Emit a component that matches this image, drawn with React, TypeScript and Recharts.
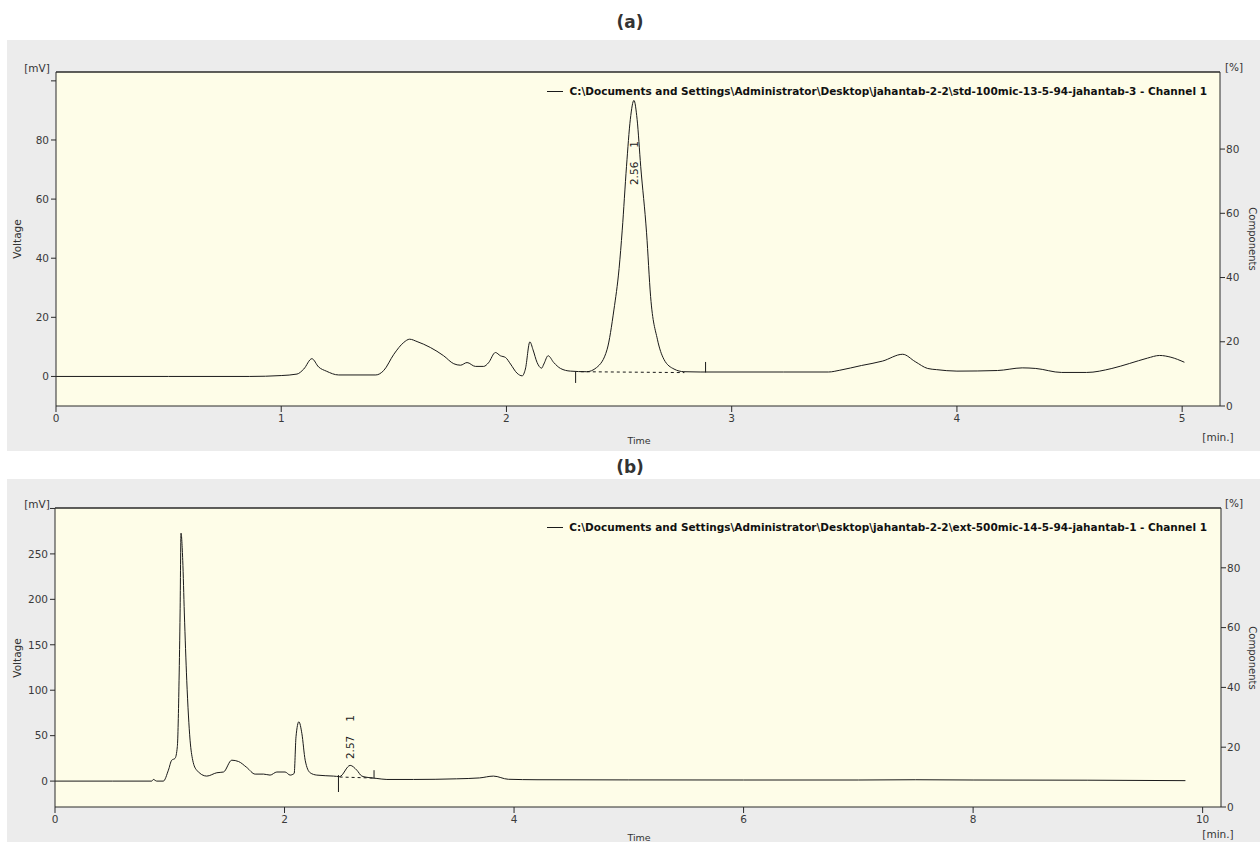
import React from 'react';
import {
  LineChart,
  Line,
  XAxis,
  YAxis,
  CartesianGrid,
  ReferenceLine,
  ReferenceDot,
} from 'recharts';

// (a) standard 100 mic
const stdTime = [
  0, 0.5, 0.86, 1.0, 1.07, 1.1, 1.136, 1.166, 1.2, 1.255, 1.42, 1.455, 1.5, 1.544, 1.57, 1.603,
  1.662, 1.721, 1.766, 1.796, 1.825, 1.862, 1.899, 1.92, 1.951, 1.973, 1.996, 2.018, 2.047, 2.07,
  2.084, 2.104, 2.118, 2.136, 2.156, 2.166, 2.185, 2.21, 2.24, 2.284, 2.356, 2.4, 2.447, 2.477,
  2.5, 2.514, 2.533, 2.55, 2.566, 2.58, 2.596, 2.622, 2.64, 2.67, 2.699, 2.744, 2.788, 2.86,
  3.23, 3.43, 3.48, 3.576, 3.67, 3.759, 3.815, 3.87, 3.91, 4.0, 4.18, 4.29, 4.35, 4.465, 4.576,
  4.688, 4.767, 4.846, 4.9, 4.95, 5.01,
];
const stdVoltage = [
  0, 0, 0, 0.3, 0.8, 2.5, 6.0, 3.2, 1.8, 0.5, 0.5, 2.0, 7.5, 11.5, 12.6, 11.8,
  9.8, 7.0, 4.3, 3.8, 4.7, 3.4, 3.4, 4.6, 8.1, 7.0, 6.4, 4.2, 1.1, 0.2,
  2.5, 11.7, 9.0, 4.7, 2.8, 4.2, 7.0, 4.7, 2.7, 1.8, 1.6, 3.0, 9.2, 22.5,
  36.5, 49.5, 71.1, 87, 93.4, 87, 71.1, 48.6, 27, 12.6, 5.8, 2.5, 1.6, 1.5,
  1.5, 1.5, 2.1, 3.7, 5.2, 7.5, 5.0, 2.7, 2.3, 1.8, 2.0, 2.9, 2.7, 1.35, 1.35,
  2.7, 4.4, 6.2, 7.1, 6.5, 4.8,
];
const stdBaseTime = [2.33, 2.79];
const stdBaseVoltage = [1.6, 1.3];
const stdMarkTime = [2.307, 2.884];
const stdMarkFrom = [1.6, 1.35];
const stdMarkTo = [-2.2, 4.9];
const stdPeakTime = [2.566];
const stdPeakVoltage = [93.4];
const stdPeakLabel = ['2.56'];
const stdPeakNo = ['1'];
const stdTimeTicks = [0, 1, 2, 3, 4, 5];
const stdVoltTicks = [0, 20, 40, 60, 80, 100];

// (b) extract 500 mic
const extTime = [
  0, 0.5, 0.843, 0.857, 0.886, 0.944, 0.988, 1.017, 1.046, 1.066, 1.081, 1.09, 1.098, 1.113,
  1.127, 1.148, 1.177, 1.2, 1.235, 1.322, 1.41, 1.468, 1.54, 1.6, 1.671, 1.744, 1.817, 1.874,
  1.933, 2.005, 2.049, 2.084, 2.1, 2.125, 2.151, 2.18, 2.223, 2.281, 2.427, 2.48, 2.572, 2.63,
  2.674, 2.746, 2.805, 2.892, 3.124, 3.5, 3.7, 3.82, 3.95, 4.2, 5.0, 6.0, 7.0, 7.5, 8.0, 9.0, 9.85,
];
const extVoltage = [
  0, 0, 0, 1.8, 0, 0, 12, 23, 25, 38, 111, 185, 272.8, 243,
  185, 111, 45, 23, 12, 5.5, 9.2, 10, 23, 21.5, 15, 7.7, 7.7, 6.6,
  10, 10, 6.6, 8.4, 48.8, 65.3, 52.5, 23, 9.2, 6.6, 5.5, 5.0, 17.3, 12,
  5.5, 3.7, 2.9, 1.8, 1.8, 2.5, 3.5, 5.5, 2.0, 1.5, 1.3, 1.2, 1.2, 1.5, 1.2, 1.0, 0.5,
];
const extBaseTime = [2.48, 2.79];
const extBaseVoltage = [4.5, 3.3];
const extMarkTime = [2.47, 2.78];
const extMarkFrom = [6.6, 12];
const extMarkTo = [-12, 3];
const extPeakTime = [2.572];
const extPeakVoltage = [17.3];
const extPeakLabel = ['2.57'];
const extPeakNo = ['1'];
const extTimeTicks = [0, 2, 4, 6, 8, 10];
const extVoltTicks = [0, 50, 100, 150, 200, 250, 300];

const pctTicks = [0, 20, 40, 60, 80];

const GRAY = '#ececec';
const PLOT_BG = '#fefde8';
const INK = '#1a1a1a';
const AXIS = '#2a2a2a';
const FONT = '"DejaVu Sans", Verdana, sans-serif';
const tickStyle = { fontSize: 10.5, fill: '#3a3a3a', fontFamily: FONT };

type PanelProps = {
  title: string;
  titleY: number;
  top: number;
  height: number;
  plotTop: number;
  plotBottom: number;
  plotLeft: number;
  plotRight: number;
  time: number[];
  voltage: number[];
  baseTime: number[];
  baseVoltage: number[];
  markTime: number[];
  markFrom: number[];
  markTo: number[];
  peakTime: number[];
  peakVoltage: number[];
  peakLabel: string[];
  peakNo: string[];
  labelShift: number;
  timeMax: number;
  timeTicks: number[];
  voltDomain: [number, number];
  voltTicks: number[];
  pctMax: number;
  legend: string;
  timeLabelY: number;
};

function Txt({ x, y, children, rotate = 0, size = 10.5, bold = false }: any) {
  return (
    <div
      style={{
        position: 'absolute',
        left: x,
        top: y,
        transform: `translate(-50%, -50%) rotate(${rotate}deg)`,
        whiteSpace: 'nowrap',
        fontFamily: FONT,
        fontSize: size,
        fontWeight: bold ? 'bold' : 'normal',
        color: '#333',
        lineHeight: 1,
      }}
    >
      {children}
    </div>
  );
}

function Panel(p: PanelProps) {
  const trace = p.time.map((t, i) => ({ time: t, voltage: p.voltage[i] }));
  const base = p.baseTime.map((t, i) => ({ time: t, voltage: p.baseVoltage[i] }));
  const marks = p.markTime.map((t, i) => [
    { time: t, voltage: p.markFrom[i] },
    { time: t, voltage: p.markTo[i] },
  ]);
  const topTick = p.voltTicks[p.voltTicks.length - 1];
  const midY = (p.plotTop + p.plotBottom) / 2;

  return (
    <>
      <Txt x={630} y={p.titleY} size={17} bold>
        {p.title}
      </Txt>
      <div style={{ position: 'absolute', left: 7, top: p.top, width: 1253, height: p.height, background: GRAY }} />
      <div style={{ position: 'absolute', left: 7, top: p.top }}>
        <LineChart
          width={1253}
          height={p.height}
          margin={{ top: p.plotTop - p.top, right: 0, bottom: 0, left: 0 }}
        >
          <CartesianGrid yAxisId="mv" fill={PLOT_BG} stroke="none" horizontal={false} vertical={false} />
          <XAxis
            dataKey="time"
            type="number"
            domain={[0, p.timeMax]}
            ticks={p.timeTicks}
            allowDataOverflow
            height={p.top + p.height - p.plotBottom}
            tick={tickStyle}
            tickSize={6}
            tickMargin={3}
            stroke={AXIS}
          />
          <YAxis
            yAxisId="mv"
            type="number"
            domain={p.voltDomain}
            ticks={p.voltTicks}
            allowDataOverflow
            width={p.plotLeft - 7}
            tick={tickStyle}
            tickSize={5}
            tickMargin={2}
            stroke={AXIS}
            tickFormatter={(v: number) => (v === topTick ? '' : String(v))}
          />
          <YAxis
            yAxisId="pct"
            orientation="right"
            type="number"
            domain={[0, p.pctMax]}
            ticks={pctTicks}
            allowDataOverflow
            width={1260 - p.plotRight}
            tick={tickStyle}
            tickSize={5}
            tickMargin={1}
            stroke={AXIS}
          />
          <ReferenceLine yAxisId="mv" y={p.voltDomain[1]} stroke={AXIS} strokeWidth={1.5} />
          <Line
            yAxisId="mv"
            data={trace}
            dataKey="voltage"
            type="monotone"
            stroke={INK}
            strokeWidth={1}
            dot={false}
            isAnimationActive={false}
          />
          <Line
            yAxisId="mv"
            data={base}
            dataKey="voltage"
            type="linear"
            stroke={INK}
            strokeWidth={1}
            strokeDasharray="3 3"
            dot={false}
            isAnimationActive={false}
          />
          {marks.map((m, i) => (
            <Line
              key={i}
              yAxisId="mv"
              data={m}
              dataKey="voltage"
              type="linear"
              stroke={INK}
              strokeWidth={1}
              dot={false}
              isAnimationActive={false}
            />
          ))}
          {p.peakTime.map((t, i) => (
            <ReferenceDot
              key={i}
              yAxisId="mv"
              x={t}
              y={p.peakVoltage[i]}
              r={0}
              shape={(s: any) => (
                <g fontFamily={FONT} fontSize={10.5} fill={INK}>
                  <text
                    x={s.cx}
                    y={s.cy + p.labelShift}
                    transform={`rotate(-90 ${s.cx} ${s.cy + p.labelShift})`}
                    textAnchor="middle"
                    dominantBaseline="central"
                  >
                    {p.peakLabel[i]}
                  </text>
                  <text
                    x={s.cx}
                    y={s.cy + p.labelShift - 29}
                    transform={`rotate(-90 ${s.cx} ${s.cy + p.labelShift - 29})`}
                    textAnchor="middle"
                    dominantBaseline="central"
                  >
                    {p.peakNo[i]}
                  </text>
                </g>
              )}
            />
          ))}
        </LineChart>
      </div>
      <div
        style={{
          position: 'absolute',
          right: 53,
          top: p.plotTop + 13,
          display: 'flex',
          alignItems: 'center',
          fontFamily: FONT,
          fontSize: 10.5,
          fontWeight: 'bold',
          color: '#111',
          whiteSpace: 'nowrap',
          lineHeight: '12px',
        }}
      >
        <span style={{ display: 'inline-block', width: 16, height: 1, background: INK, marginRight: 6 }} />
        {p.legend}
      </div>
      <Txt x={37} y={p.plotTop - 4}>[mV]</Txt>
      <Txt x={1234} y={p.plotTop - 5}>[%]</Txt>
      <Txt x={1218} y={p.timeLabelY - 4}>[min.]</Txt>
      <Txt x={p.plotLeft + (p.plotRight - p.plotLeft) * 0.5 + 1} y={p.timeLabelY} size={9.5}>
        Time
      </Txt>
      <Txt x={17} y={midY} rotate={-90}>
        Voltage
      </Txt>
      <Txt x={1252} y={midY} rotate={90} size={10}>
        Components
      </Txt>
    </>
  );
}

export default function App() {
  return (
    <div
      style={{
        position: 'absolute',
        left: 0,
        top: 0,
        width: 1260,
        height: 842,
        overflow: 'hidden',
        background: '#fff',
      }}
    >
      <Panel
        title="(a)"
        titleY={22}
        top={40}
        height={411}
        plotTop={72}
        plotBottom={406}
        plotLeft={56}
        plotRight={1220}
        time={stdTime}
        voltage={stdVoltage}
        baseTime={stdBaseTime}
        baseVoltage={stdBaseVoltage}
        markTime={stdMarkTime}
        markFrom={stdMarkFrom}
        markTo={stdMarkTo}
        peakTime={stdPeakTime}
        peakVoltage={stdPeakVoltage}
        peakLabel={stdPeakLabel}
        peakNo={stdPeakNo}
        labelShift={73}
        timeMax={5.168}
        timeTicks={stdTimeTicks}
        voltDomain={[-10, 103]}
        voltTicks={stdVoltTicks}
        pctMax={104}
        legend="C:\Documents and Settings\Administrator\Desktop\jahantab-2-2\std-100mic-13-5-94-jahantab-3 - Channel 1"
        timeLabelY={441}
      />
      <Panel
        title="(b)"
        titleY={467}
        top={479}
        height={363}
        plotTop={508}
        plotBottom={807}
        plotLeft={55}
        plotRight={1221}
        time={extTime}
        voltage={extVoltage}
        baseTime={extBaseTime}
        baseVoltage={extBaseVoltage}
        markTime={extMarkTime}
        markFrom={extMarkFrom}
        markTo={extMarkTo}
        peakTime={extPeakTime}
        peakVoltage={extPeakVoltage}
        peakLabel={extPeakLabel}
        peakNo={extPeakNo}
        labelShift={-18}
        timeMax={10.16}
        timeTicks={extTimeTicks}
        voltDomain={[-28.5, 300.5]}
        voltTicks={extVoltTicks}
        pctMax={100}
        legend="C:\Documents and Settings\Administrator\Desktop\jahantab-2-2\ext-500mic-14-5-94-jahantab-1 - Channel 1"
        timeLabelY={838}
      />
    </div>
  );
}
